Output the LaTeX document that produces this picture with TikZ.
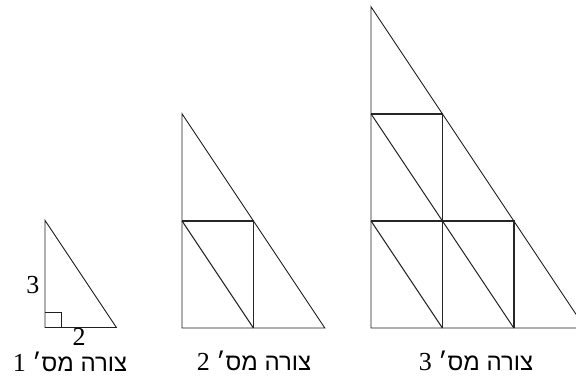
\documentclass[tikz,border=0pt]{standalone}
\usepackage{fontspec}
\setmainfont{Liberation Serif}
\newfontfamily\hebfont[Script=Hebrew]{Liberation Sans}
\TeXXeTstate=1
\newcommand\capnum[1]{{\fontsize{26}{28}\selectfont\rmfamily #1}}
\begin{document}
\begin{tikzpicture}[x=1pt,y=-1pt,
  outer/.style={draw=black!88,line width=0.9pt,line join=miter},
  inner/.style={draw=black!85,line width=1.4pt},
  diag/.style={draw=black!88,line width=1.0pt},
  lbl/.style={inner sep=0pt,anchor=base,text height=17pt,text depth=0pt,font=\fontsize{26}{28}\selectfont},
  captxt/.style={inner sep=0pt,anchor=base,text height=17pt,text depth=2pt,font=\fontsize{24}{26}\selectfont}]
\useasboundingbox (0,0) rectangle (576,380);
\clip (0,0) rectangle (576,380);
% ---------- figure 1 ----------
\coordinate (a0) at (45,327.5);
\coordinate (a1) at (45,220.4);
\coordinate (a2) at (116.4,327.5);
\draw[outer] (a0) -- (a1) -- (a2) -- cycle;
\draw[outer] (45,312) -- (61,312) -- (61,327.5);
\node[lbl] (l3) at (33,293) {3};
\node[lbl] (l2) at (79,345.5) {2};
\node[captxt] (c1) at (70,371) {\hebfont\beginR צורה מס׳ \capnum{1}\endR};
% ---------- figure 2 ----------
\coordinate (b0) at (182,328);
\coordinate (b1) at (182,113.8);
\coordinate (b2) at (324.8,328);
\coordinate (bm) at (253.4,220.9);
\coordinate (bb) at (253.4,328);
\coordinate (bl) at (182,220.9);
\draw[outer] (b0) -- (b1) -- (b2) -- cycle;
\draw[inner] (bl) -- (bm) -- (bb);
\draw[diag] (bl) -- (bb);
\node[captxt] (c2) at (254,370) {\hebfont\beginR צורה מס׳ \capnum{2}\endR};
% ---------- figure 3 ----------
\coordinate (d0) at (371,328);
\coordinate (d1) at (371,6.7);
\coordinate (d2) at (585.2,328);
\coordinate (p1) at (371,220.9);
\coordinate (p2) at (442.4,220.9);
\coordinate (p3) at (513.8,220.9);
\coordinate (q1) at (371,113.8);
\coordinate (q2) at (442.4,113.8);
\coordinate (r2) at (442.4,328);
\coordinate (r3) at (513.8,328);
\draw[outer] (d0) -- (d1) -- (d2) -- cycle;
\draw[inner] (q1) -- (q2) -- (r2);
\draw[inner] (p1) -- (p3) -- (r3);
\draw[diag] (q1) -- (p2);
\draw[diag] (p1) -- (r2);
\draw[diag] (p2) -- (r3);
\node[captxt] (c3) at (476,370) {\hebfont\beginR צורה מס׳ \capnum{3}\endR};
\end{tikzpicture}
\end{document}
